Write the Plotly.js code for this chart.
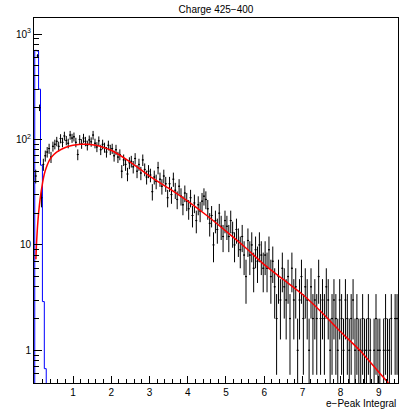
<!DOCTYPE html>
<html><head><meta charset="utf-8">
<script src="https://cdn.plot.ly/plotly-3.0.1.min.js"></script>
<style>html,body{margin:0;padding:0;background:#fff;} #chart{width:405px;height:412px;}</style>
</head><body><div id="chart"></div>
<script>
// Histogram binning (black data)
const binStart = 0;
const binWidth = 0.05;
const dataCounts = [
  45, 620, 200, 28, 58, 70, 76, 82, 68, 86,
  90, 96, 86, 102, 94, 108, 98, 92, 110, 103,
  106, 94, 72, 100, 91, 103, 96, 88, 99, 95,
  110, 92, 85, 97, 80, 90, 84, 76, 88, 80,
  82, 70, 80, 68, 72, 50, 64, 58, 47, 60,
  62, 55, 66, 50, 58, 48, 64, 52, 44, 50,
  46, 32, 44, 40, 54, 42, 36, 45, 38, 28,
  38, 30, 42, 33, 27, 36, 29, 24, 31, 26,
  22, 28, 19, 25, 17, 24, 21, 26, 29, 27,
  22, 16, 19, 10, 17, 14, 20, 15, 12, 17,
  15, 12, 17, 13, 10, 14, 11, 9, 12, 8,
  5, 11, 8, 10, 6, 9, 7, 10, 8, 6,
  8, 6, 9, 5, 7, 4, 2, 5, 3, 6,
  4, 3, 5, 2, 6, 3, 4, 1, 3, 5,
  2, 4, 3, 1, 4, 2, 3, 2, 5, 2,
  3, 2, 4, 3, 1, 2, 3, 2, 1, 3,
  2, 1, 3, 2, 1, 2, 3, 1, 2, 1,
  1, 2, 1, 1, 2, 1, 0, 1, 2, 1,
  1, 0, 1, 2, 1, 1, 2, 0, 2, 2
];

// Blue histogram (pedestal)
const blueEdges = [0, 0.05, 0.1, 0.15, 0.2, 0.25, 0.3];
const blueCounts = [700, 690, 300, 57, 2.9, 0.67];

// Fit curve
const fitX = [0.03, 0.05, 0.1, 0.15, 0.2, 0.25, 0.3, 0.4, 0.5, 0.6, 0.8, 1.0, 1.2, 1.4, 1.6, 1.8, 2.0, 2.5, 3.0, 3.5, 4.0, 4.5, 5.0, 5.5, 6.0, 6.5, 7.0, 7.5, 8.0, 8.5, 9.0, 9.25];
const fitY = [7.3, 11, 20, 29, 38, 47, 54, 65, 72, 77, 84, 88, 90, 90, 88, 84, 79, 61, 45, 34.5, 26, 19, 13.5, 9.5, 6.5, 4.7, 3.4, 2.3, 1.5, 1.0, 0.62, 0.49];

// Axis ticks
const xTickVals = [1, 2, 3, 4, 5, 6, 7, 8, 9];
const xTickText = ['1', '2', '3', '4', '5', '6', '7', '8', '9'];
const yTickVals = [1, 10, 100, 1000];
const yTickText = ['1', '10', '10<sup>2</sup>', '10<sup>3</sup>'];

const xs = [], ys = [], errs = [];
dataCounts.forEach((c, i) => {
  xs.push(binStart + (i + 0.5) * binWidth);
  ys.push(c > 0 ? c : null);
  errs.push(Math.sqrt(c));
});

const bx = [blueEdges[0]], by = [1e-3];
for (let i = 0; i < blueCounts.length; i++) { bx.push(blueEdges[i]); by.push(blueCounts[i]); }
bx.push(blueEdges[blueEdges.length - 1]); by.push(blueCounts[blueCounts.length - 1]);
bx.push(blueEdges[blueEdges.length - 1]); by.push(1e-3);

const yMinor = [];
[0.1, 1, 10, 100].forEach(d => { for (let m = 2; m <= 9; m++) yMinor.push(m * d); });

const traces = [
  {type: 'scatter', mode: 'lines', x: bx, y: by, line: {color: '#0000ff', width: 1, shape: 'hv'}, hoverinfo: 'skip'},
  {type: 'scatter', mode: 'markers', x: xs, y: ys,
   marker: {size: 1.5, color: '#000'},
   error_y: {type: 'data', array: errs, visible: true, color: '#000', thickness: 1, width: 0},
   error_x: {type: 'constant', value: binWidth / 2, visible: true, color: '#000', thickness: 1, width: 0}},
  {type: 'scatter', mode: 'lines', x: fitX, y: fitY, line: {color: '#ff0000', width: 1.5, shape: 'spline', smoothing: 0.6}}
];

const layout = {
  width: 405, height: 412,
  margin: {l: 34, r: 7, t: 18, b: 29, pad: 0},
  paper_bgcolor: '#fff', plot_bgcolor: '#fff',
  showlegend: false,
  font: {family: 'Liberation Sans, Arial, sans-serif', size: 10, color: '#000'},
  title: {text: 'Charge 425\u2212400', x: 0.5, xref: 'paper', xanchor: 'center', y: 1 - 9 / 412, yref: 'container', yanchor: 'middle', font: {size: 10, color: '#000'}},
  xaxis: {
    range: [-0.02, 9.5], showline: true, linecolor: '#000', linewidth: 1, mirror: true,
    ticks: 'inside', ticklen: 7, tickwidth: 1, tickcolor: '#000',
    tickmode: 'array', tickvals: xTickVals, ticktext: xTickText,
    showgrid: false, zeroline: false, tickfont: {size: 10},
    minor: {tickmode: 'linear', tick0: 0, dtick: 0.2, ticks: 'inside', ticklen: 4, tickwidth: 1, tickcolor: '#000', showgrid: false}
  },
  yaxis: {
    type: 'log', range: [-0.31, 3.152], showline: true, linecolor: '#000', linewidth: 1, mirror: true,
    ticks: 'inside', ticklen: 8, tickwidth: 1, tickcolor: '#000',
    tickmode: 'array', tickvals: yTickVals, ticktext: yTickText,
    showgrid: false, zeroline: false, tickfont: {size: 10},
    minor: {tickmode: 'array', tickvals: yMinor, ticks: 'inside', ticklen: 5, tickwidth: 1, tickcolor: '#000', showgrid: false}
  },
  annotations: [{text: 'e\u2212Peak Integral', xref: 'paper', yref: 'paper', x: 1, y: -0.055, xanchor: 'right', yanchor: 'middle', showarrow: false, font: {size: 10, color: '#000'}}]
};

Plotly.newPlot('chart', traces, layout, {displayModeBar: false, staticPlot: true});
</script>
</body></html>
